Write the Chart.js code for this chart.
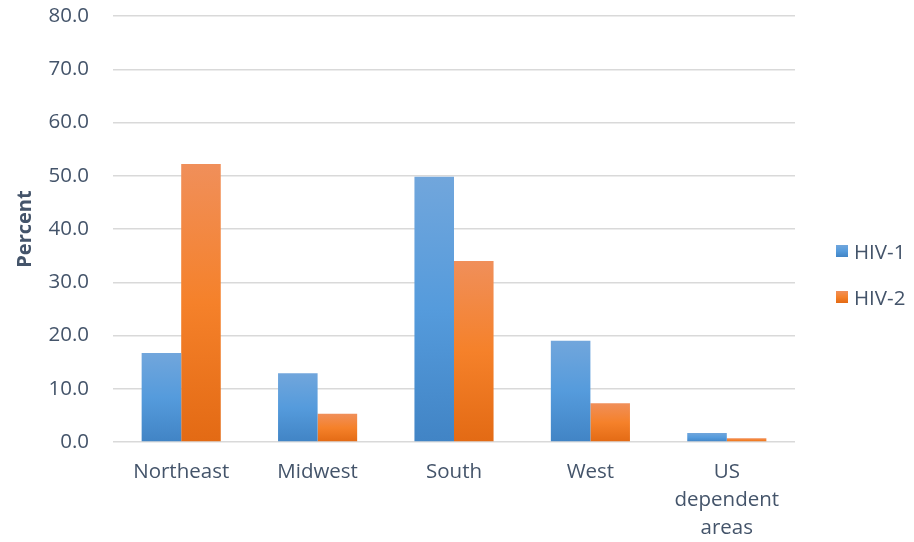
<!DOCTYPE html>
<html>
<head>
<meta charset="utf-8">
<script src="https://cdn.jsdelivr.net/npm/chart.js@4/dist/chart.umd.min.js"></script>
<style>
  html, body { margin: 0; padding: 0; background: #ffffff; }
  #wrap { position: relative; width: 914px; height: 542px; }
  #legend {
    position: absolute; left: 836px; top: 238px;
    font-family: "Open Sans", sans-serif; font-size: 20.5px; color: #44546A;
  }
  #legend .item { display: flex; align-items: center; height: 26px; margin-bottom: 20px; white-space: nowrap; }
  #legend .swatch { width: 12px; height: 12px; margin-right: 6px; flex: none; }
</style>
</head>
<body>
<div id="wrap">
  <canvas id="chart" width="914" height="542"></canvas>
  <div id="legend"></div>
</div>
<script>
// Share of diagnoses by region, HIV-1 vs HIV-2 (percent)
const regions = ['Northeast', 'Midwest', 'South', 'West', ['US', 'dependent', 'areas']];
const hiv1 = [16.7, 12.9, 49.8, 19.0, 1.7];
const hiv2 = [52.2, 5.3, 34.0, 7.3, 0.7];
const seriesNames = ['HIV-1', 'HIV-2'];

const TEXT = '#44546A';
const FONT = '"Open Sans", sans-serif';

// Light-to-dark shading stops (top, middle, base) for each series
const blueStops = ['#71A6DC', '#559BDC', '#4184C5'];
const orangeStops = ['#F08F5A', '#F5812A', '#E36A14'];

// Each bar gets its own top-to-bottom shading
function barGradient(stops) {
  return function (ctx) {
    const chart = ctx.chart;
    if (!chart.chartArea || ctx.type !== 'data') return stops[1];
    const y = chart.scales.y;
    const v = ctx.parsed ? ctx.parsed.y : ctx.raw;
    const top = y.getPixelForValue(v);
    const bottom = y.getPixelForValue(0);
    if (!isFinite(top) || bottom - top < 1) return stops[1];
    const g = chart.ctx.createLinearGradient(0, top, 0, bottom);
    g.addColorStop(0, stops[0]);
    g.addColorStop(0.5, stops[1]);
    g.addColorStop(1, stops[2]);
    return g;
  };
}

const chart = new Chart(document.getElementById('chart'), {
  type: 'bar',
  data: {
    labels: regions,
    datasets: [
      { label: seriesNames[0], data: hiv1, backgroundColor: barGradient(blueStops), borderWidth: 0, shade: blueStops },
      { label: seriesNames[1], data: hiv2, backgroundColor: barGradient(orangeStops), borderWidth: 0, shade: orangeStops }
    ]
  },
  options: {
    responsive: false,
    animation: false,
    devicePixelRatio: 1,
    layout: { padding: { top: 0, left: 13, right: 119, bottom: 0 } },
    datasets: { bar: { barPercentage: 1.0, categoryPercentage: 0.58 } },
    scales: {
      x: {
        grid: { display: false, drawTicks: false },
        border: { display: false },
        ticks: { color: TEXT, font: { family: FONT, size: 20.5, lineHeight: 1.366 }, padding: 16, maxRotation: 0, autoSkip: false },
        // axis band: label gap plus three label lines
        afterFit: s => { s.height = 100; }
      },
      y: {
        min: 0, max: 80,
        grid: { color: '#D9D9D9', lineWidth: 1.5, drawTicks: false },
        border: { display: false },
        ticks: {
          stepSize: 10, color: TEXT, padding: 24,
          font: { family: FONT, size: 20.5 },
          callback: v => Number(v).toFixed(1)
        },
        title: {
          display: true, text: 'Percent', color: TEXT,
          font: { family: FONT, size: 20, weight: 'bold' },
          padding: { top: 0, bottom: 11 }
        },
        // title + tick labels band, and room above the top tick
        afterFit: s => { s.width = 100; s.paddingTop = 16; s.paddingBottom = 0; }
      }
    },
    plugins: {
      tooltip: { enabled: false },
      legend: { display: false }
    }
  }
});

// Series key on the right, built from the datasets
const legendEl = document.getElementById('legend');
chart.data.datasets.forEach(ds => {
  const item = document.createElement('div');
  item.className = 'item';
  const sw = document.createElement('span');
  sw.className = 'swatch';
  sw.style.background = 'linear-gradient(' + ds.shade.join(',') + ')';
  const label = document.createElement('span');
  label.textContent = ds.label;
  item.appendChild(sw);
  item.appendChild(label);
  legendEl.appendChild(item);
});
</script>
</body>
</html>
